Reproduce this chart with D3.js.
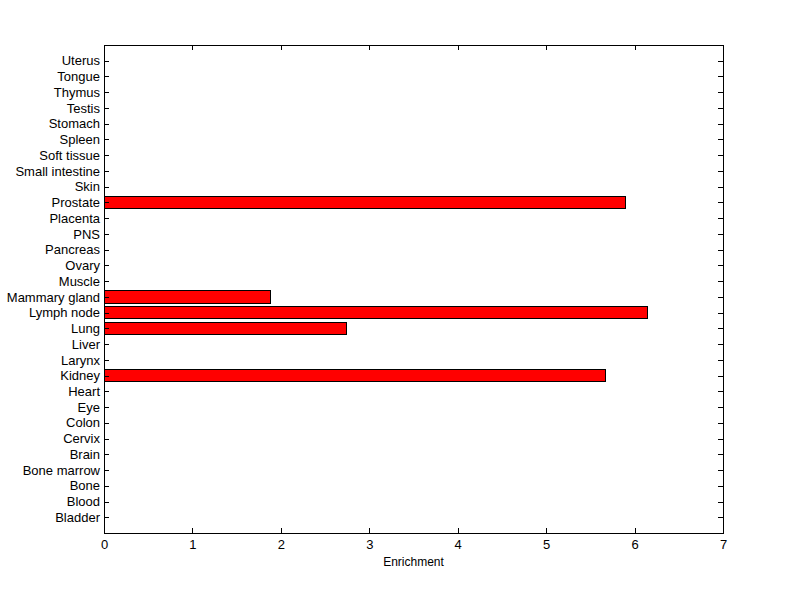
<!DOCTYPE html>
<html>
<head>
<meta charset="utf-8">
<script src="https://cdn.jsdelivr.net/npm/d3@7"></script>
<style>
body{margin:0;background:#fff;}
text{font-family:"Liberation Sans",Arial,sans-serif;font-size:13px;fill:#000;}
line,rect{shape-rendering:crispEdges;}
</style>
</head>
<body>
<svg id="chart" width="800" height="599"></svg>
<script>
// tissues, bottom to top
var tissues = ["Bladder","Blood","Bone","Bone marrow","Brain","Cervix","Colon","Eye","Heart","Kidney",
  "Larynx","Liver","Lung","Lymph node","Mammary gland","Muscle","Ovary","Pancreas","PNS","Placenta",
  "Prostate","Skin","Small intestine","Soft tissue","Spleen","Stomach","Testis","Thymus","Tongue","Uterus"];
var enrichment = [0,0,0,0,0,0,0,0,0,5.67,
  0,0,2.74,6.15,1.88,0,0,0,0,0,
  5.90,0,0,0,0,0,0,0,0,0];
var xTicks = [0,1,2,3,4,5,6,7];

var svg = d3.select("#chart");
var pLeft = 104, pRight = 723, pTop = 45, pBottom = 533;

var x = d3.scaleLinear().domain([0,7]).range([pLeft,pRight]);
var y = d3.scaleLinear().domain([0,31]).range([pBottom,pTop]);
var bh = (y(0)-y(0.8));

svg.append("rect").attr("width",800).attr("height",599).attr("fill","#fff");

// bars
svg.append("g").selectAll("rect")
  .data(tissues.map(function(t,i){ return {name:t, v:enrichment[i], i:i+1}; }).filter(function(d){ return d.v>0; }))
  .enter().append("rect")
  .attr("x", x(0))
  .attr("y", function(d){ return y(d.i) - bh/2; })
  .attr("width", function(d){ return x(d.v)-x(0); })
  .attr("height", bh)
  .attr("fill","#ff0000")
  .attr("stroke","#000")
  .attr("stroke-width",1);

// axes, ticks pointing inward
var tl = 5;
var yVals = d3.range(1, tissues.length+1);
svg.append("g").attr("transform","translate("+pLeft+",0)")
  .call(d3.axisLeft(y).tickValues(yVals).tickSize(-tl).tickPadding(4)
    .tickFormat(function(d){ return tissues[d-1]; }))
  .call(function(g){ g.select(".domain").remove(); });
svg.append("g").attr("transform","translate("+pRight+",0)")
  .call(d3.axisRight(y).tickValues(yVals).tickSize(-tl).tickFormat(""))
  .call(function(g){ g.select(".domain").remove(); });
svg.append("g").attr("transform","translate(0,"+pBottom+")")
  .call(d3.axisBottom(x).tickValues(xTicks).tickSize(-tl).tickPadding(7).tickFormat(d3.format("d")))
  .call(function(g){ g.select(".domain").remove(); });
svg.append("g").attr("transform","translate(0,"+pTop+")")
  .call(d3.axisTop(x).tickValues(xTicks).tickSize(-tl).tickFormat(""))
  .call(function(g){ g.select(".domain").remove(); });

svg.selectAll(".tick line").attr("stroke","#000");
svg.selectAll(".tick text").style("font-size","13px").attr("fill","#000");

svg.append("rect").attr("x",pLeft).attr("y",pTop).attr("width",pRight-pLeft).attr("height",pBottom-pTop)
  .attr("fill","none").attr("stroke","#000").attr("stroke-width",1);

svg.append("text").attr("x",(pLeft+pRight)/2).attr("y",566).attr("text-anchor","middle")
  .style("font-size","12px").text("Enrichment");
</script>
</body>
</html>
